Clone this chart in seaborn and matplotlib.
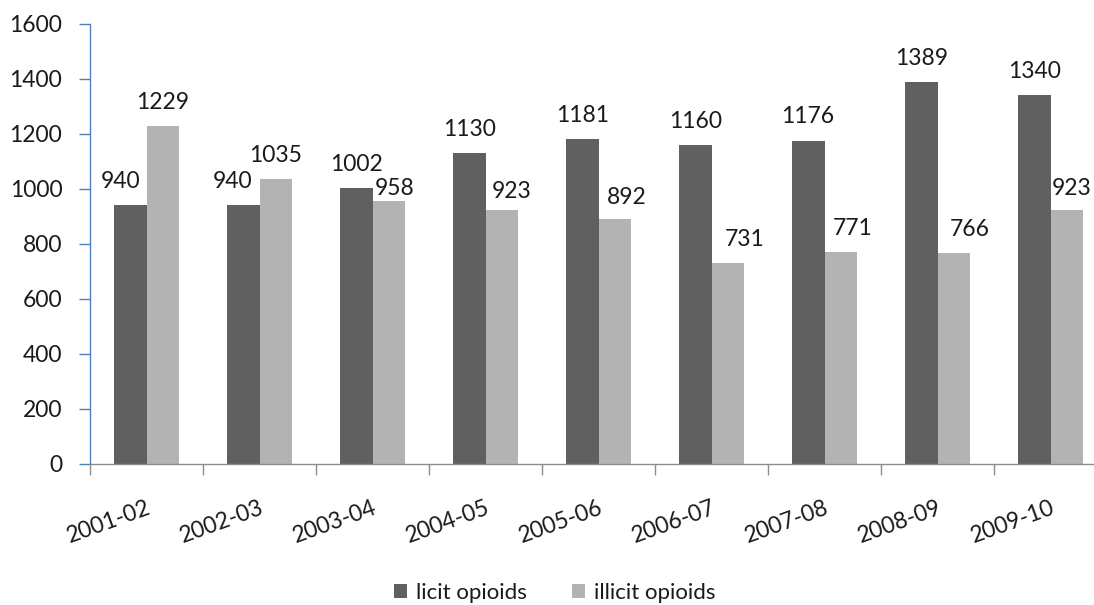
import matplotlib
matplotlib.use("Agg")
import matplotlib.pyplot as plt
from matplotlib.patches import Patch
from matplotlib.ticker import FixedLocator, MultipleLocator
import seaborn as sns
import pandas as pd

years = ["2001-02", "2002-03", "2003-04", "2004-05", "2005-06",
         "2006-07", "2007-08", "2008-09", "2009-10"]
licit = [940, 940, 1002, 1130, 1181, 1160, 1176, 1389, 1340]
illicit = [1229, 1035, 958, 923, 892, 731, 771, 766, 923]
series = ["licit opioids", "illicit opioids"]
colors = ["#606060", "#b3b3b3"]

# label placement tweaks in pixels (right, down) so neighbouring labels stay clear
licit_label_shift = [(-10, 0), (-11, 0), (0, 0), (0, 0), (0, 0),
                     (0, 0), (0, 0), (0, 0), (0, 0)]
illicit_label_shift = [(0, 0), (0, 0), (6, 12), (10, 5), (12, 3),
                       (17, 0), (12, 0), (16, 0), (5, 2)]

df = pd.DataFrame({
    "year": years * 2,
    "count": licit + illicit,
    "kind": [series[0]] * len(years) + [series[1]] * len(years),
})

sns.set_theme(style="white")
plt.rcParams["font.family"] = ["Lato", "DejaVu Sans"]

DPI = 100
fig = plt.figure(figsize=(10.94, 6.05), dpi=DPI)
ax = fig.add_axes([0.0823, 0.2331, 0.9296, 0.7273])

sns.barplot(data=df, x="year", y="count", hue="kind", order=years,
            hue_order=series, palette=colors, width=0.58, gap=0,
            saturation=1, ax=ax, legend=False, edgecolor="none")

PAD = 9.5  # points between bar top and label
px2pt = 72.0 / DPI
for cont, shifts in zip(ax.containers, [licit_label_shift, illicit_label_shift]):
    anns = ax.bar_label(cont, fmt="%d", padding=PAD, fontsize=16.5,
                        color="#1a1a1a")
    for ann, (dx, dy) in zip(anns, shifts):
        ann.xyann = (dx * px2pt, PAD - dy * px2pt)

ax.set_ylim(0, 1600)
ax.set_xlim(-0.5, len(years) - 0.5)
ax.yaxis.set_major_locator(MultipleLocator(200))
ax.set_xlabel("")
ax.set_ylabel("")

for side in ["top", "right"]:
    ax.spines[side].set_visible(False)
ax.spines["left"].set_color("#4f81bd")
ax.spines["left"].set_linewidth(1.0)
ax.spines["bottom"].set_color("#8c8c8c")
ax.spines["bottom"].set_linewidth(1.0)

ax.tick_params(axis="y", which="major", direction="out", length=8,
               width=1, color="#4f81bd", labelsize=16.5, labelcolor="#1a1a1a",
               pad=12, left=True)
ax.xaxis.set_minor_locator(FixedLocator([i - 0.5 for i in range(len(years) + 1)]))
ax.tick_params(axis="x", which="minor", direction="out", length=8, width=1,
               color="#8c8c8c", bottom=True)
ax.tick_params(axis="x", which="major", length=0, labelsize=16.5,
               labelcolor="#1a1a1a", pad=24)
for lab in ax.get_xticklabels():
    lab.set_rotation(20)
    lab.set_ha("right")
    lab.set_rotation_mode("anchor")

handles = [Patch(facecolor=c, edgecolor="none", label=s) for c, s in zip(colors, series)]
fig.legend(handles=handles, loc="center", bbox_to_anchor=(0.507, 0.02),
           ncol=2, frameon=False, fontsize=16, handlelength=0.6,
           handleheight=0.6, handletextpad=0.4, columnspacing=2.0,
           labelcolor="#1a1a1a")

fig.savefig("out.png", dpi=DPI, facecolor="white")
